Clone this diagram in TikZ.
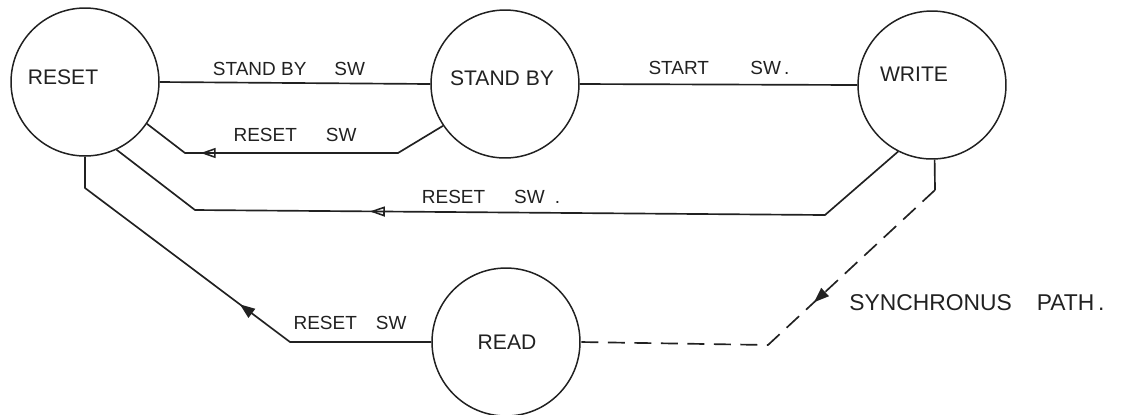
\documentclass[tikz,border=0pt]{standalone}
\usepackage{fontspec}
\setmainfont{Liberation Sans}
\usetikzlibrary{arrows.meta,decorations.markings}
\definecolor{ink}{gray}{0.13}
\begin{document}
\begin{tikzpicture}[x=0.02cm,y=-0.02cm,
  state/.style={draw=ink, circle, line width=0.85pt, minimum size=2.96cm, inner sep=0pt},
  statetext/.style={font=\fontsize{12}{14}\selectfont, text=ink, inner sep=0pt},
  edgelabel/.style={font=\fontsize{10.8}{12}\selectfont, text=ink, inner sep=0pt},
  wire/.style={draw=ink, line width=0.95pt, line join=round},
  openmark/.style={postaction={decorate}, decoration={markings,
      mark=at position #1 with {\arrow{Triangle[open,length=0.3cm,width=0.2cm,line width=0.9pt]}}}},
  fullmark/.style={postaction={decorate}, decoration={markings,
      mark=at position #1 with {\pgfsetdash{}{0pt}\arrow{Triangle[length=0.3cm,width=0.22cm]}}}},
  syncline/.style={wire, dash pattern=on 0.34cm off 0.19cm}
]
\useasboundingbox (0,0) rectangle (1125,414);

% states
\node[state, label={[statetext, xshift=-0.44cm, yshift=0.1cm]center:RESET}] (reset) at (85,82) {};
\node[state, label={[statetext, xshift=-0.06cm, yshift=0.12cm]center:STAND BY}] (standby) at (505,84) {};
\node[state, label={[statetext, xshift=-0.36cm, yshift=0.22cm]center:WRITE}] (write) at (932,85) {};
\node[state, label={[statetext, xshift=0.02cm, yshift=0cm]center:READ}] (read) at (506,342) {};

% corner coordinates
\coordinate (u1) at (398,153);
\coordinate (u2) at (185,153);
\coordinate (l1) at (825,215);
\coordinate (l2) at (195,210);
\coordinate (r1) at (290,342);
\coordinate (r2) at (85,188);
\coordinate (s1) at (935,190);
\coordinate (s2) at (768,345);

% connectors
\draw[wire] (reset.east) -- (standby.west);
\draw[wire] (standby.east) -- (write.west);
\draw[wire, openmark=5cm] (standby.214.7) -- (u1) -- (u2) -- (reset.326.5);
\draw[wire, openmark=11.04cm] (write.243.4) -- (l1) -- (l2) -- (reset.295.2);
\draw[wire, fullmark=4.08cm] (read.west) -- (r1) -- (r2) -- (reset.south);
\draw[wire] (write.272) -- (s1);
\draw[syncline, fullmark=3.3cm] (s1) -- (s2) -- (read.east);

% labels
\node[edgelabel] (lsb) at (289,69) {STAND BY\hspace{0.56cm}SW};
\node[edgelabel] (lst) at (719,68) {START\hspace{0.83cm}SW\,.};
\node[edgelabel] (lr1) at (295,135) {RESET\hspace{0.58cm}SW};
\node[edgelabel] (lr2) at (491,197) {RESET\hspace{0.58cm}SW\hspace{0.2cm}.};
\node[edgelabel] (lr3) at (350,323) {RESET\hspace{0.38cm}SW};
\node[edgelabel, font=\fontsize{13}{15}\selectfont] (lsy) at (977,303) {SYNCHRONUS\hspace{0.5cm}PATH\,.};
\end{tikzpicture}
\end{document}
